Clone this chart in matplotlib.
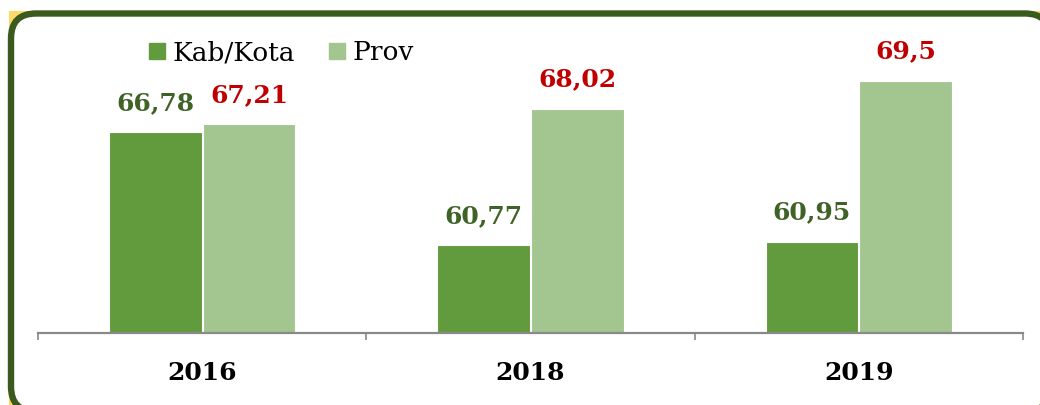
import matplotlib

matplotlib.use("Agg")
import matplotlib.pyplot as plt
from matplotlib.lines import Line2D
from matplotlib.patches import FancyBboxPatch, Rectangle
import numpy as np

years = ["2016", "2018", "2019"]
kab_kota = [66.78, 60.77, 60.95]
prov = [67.21, 68.02, 69.5]
kab_labels = ["66,78", "60,77", "60,95"]
prov_labels = ["67,21", "68,02", "69,5"]

DARK = "#629a3e"
LIGHT = "#a3c690"
BORDER = "#3b5a1e"
LABEL_GREEN = "#3f6327"
LABEL_RED = "#c00000"
W, H = 1040, 405

plt.rcParams["font.family"] = ["DejaVu Serif"]

fig = plt.figure(figsize=(W / 100, H / 100), dpi=100)

# background frame, drawn in pixel units
bg = fig.add_axes([0, 0, 1, 1], zorder=0)
bg.set_xlim(0, W)
bg.set_ylim(H, 0)
bg.axis("off")
bg.add_patch(Rectangle((8.5, 10.5), 1060, 405, facecolor="#ffd966", edgecolor="none"))
bg.add_patch(
    FancyBboxPatch(
        (11, 13.5), 1039, 398,
        boxstyle="round,pad=0,rounding_size=25",
        facecolor="white", edgecolor=BORDER, linewidth=4.6,
    )
)

ax = fig.add_axes([38 / W, 72 / H, (1023 - 38) / W, (390 - 72) / H], zorder=1)
ax.patch.set_alpha(0)
x = np.arange(len(years))
off, bw = 0.143, 0.282
ax.bar(x - off, kab_kota, bw, color=DARK, edgecolor="white", linewidth=0.8)
ax.bar(x + off, prov, bw, color=LIGHT, edgecolor="white", linewidth=0.8)
ax.set_xlim(-0.5, 2.5)
ax.set_ylim(56.09, 56.09 + (333 - 15) / 18.8)

for xi, v, lab in zip(x, kab_kota, kab_labels):
    ax.annotate(lab, (xi - off, v), xytext=(0, 16), textcoords="offset points",
                ha="center", va="baseline", fontsize=18, fontweight="bold", color=LABEL_GREEN)
for xi, v, lab in zip(x, prov, prov_labels):
    ax.annotate(lab, (xi + off, v), xytext=(0, 16), textcoords="offset points",
                ha="center", va="baseline", fontsize=18, fontweight="bold", color=LABEL_RED)

for s in ["top", "left", "right"]:
    ax.spines[s].set_visible(False)
ax.spines["bottom"].set_color("#898989")
ax.spines["bottom"].set_linewidth(1.6)
ax.set_yticks([])
ax.set_xticks(x, years, fontsize=18, fontweight="bold")
ax.tick_params(axis="x", which="major", length=0, pad=20)
ax.set_xticks([-0.5, 0.5, 1.5, 2.5], minor=True)
ax.tick_params(axis="x", which="minor", length=5, width=1.2, color="#898989", direction="out")

handles = [
    Line2D([], [], marker="s", linestyle="none", markersize=12, color=DARK),
    Line2D([], [], marker="s", linestyle="none", markersize=12, color=LIGHT),
]
fig.legend(handles, ["Kab/Kota", "Prov"], loc="center left",
           bbox_to_anchor=(144 / W, 1 - 53 / H), ncol=2, frameon=False,
           fontsize=19, handlelength=1.0, handletextpad=0.08, columnspacing=1.1,
           borderpad=0, borderaxespad=0)

fig.savefig("out.png", dpi=100)
